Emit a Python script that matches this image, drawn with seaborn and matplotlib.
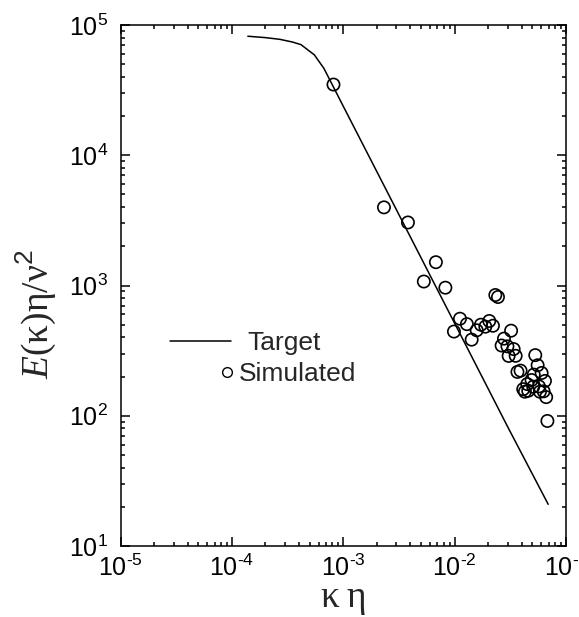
import numpy as np
import pandas as pd
import matplotlib
matplotlib.use("Agg")
import matplotlib.pyplot as plt
from matplotlib.ticker import LogLocator, FuncFormatter, NullFormatter
from matplotlib.lines import Line2D
import seaborn as sns

# Target spectrum (normalised wavenumber vs normalised energy)
target_k = [1.39e-4, 2.0e-4, 2.7e-4, 3.5e-4, 4.17e-4, 5.5e-4, 6.7e-4,
            1.0e-3, 3.0e-3, 1.0e-2, 3.0e-2, 6.92e-2]
target_E = [8.2e4, 8.0e4, 7.76e4, 7.4e4, 7.07e4, 5.9e4, 4.65e4,
            2.38e4, 3.82e3, 513, 82, 20.9]

# Simulated spectrum samples
sim_k = [8.17e-4, 2.32e-3, 3.81e-3, 6.79e-3, 5.29e-3, 8.26e-3, 0.0232, 0.0245,
         0.01117, 9.86e-3, 0.01288, 0.01422, 0.01578, 0.01722, 0.01887, 0.02047,
         0.02208, 0.03214, 0.02773, 0.02642, 0.02979, 0.03388, 0.03055, 0.03532,
         0.05297, 0.03664, 0.03908, 0.05561, 0.05129, 0.06039, 0.04909, 0.06471,
         0.04487, 0.0413, 0.04581, 0.05715, 0.06295, 0.06637, 0.06808, 0.04276,
         0.05082, 0.05834]
sim_E = [34900, 3980, 3048, 1510, 1073, 962, 845, 816,
         556, 443, 505, 384, 453, 500, 483, 534,
         491, 450, 391, 346, 341, 325, 288, 288.5,
         292, 217, 222, 244, 207, 213, 188, 185,
         175, 160, 155.6, 168, 154, 139, 91.2, 153,
         167, 153]

x_ticks = [1e-5, 1e-4, 1e-3, 1e-2, 1e-1]
y_ticks = [1e1, 1e2, 1e3, 1e4, 1e5]

sns.set_theme(style="ticks")
plt.rcParams.update({
    "font.family": ["Liberation Sans", "DejaVu Sans"],
    "mathtext.fontset": "custom",
    "mathtext.rm": "Liberation Serif",
    "mathtext.it": "Liberation Serif:italic",
    "mathtext.default": "regular",
    "axes.edgecolor": "black",
    "axes.linewidth": 1.1,
    "xtick.color": "black",
    "ytick.color": "black",
})

target = pd.DataFrame({"k": target_k, "E": target_E})
sim = pd.DataFrame({"k": sim_k, "E": sim_E})

fig = plt.figure(figsize=(5.79, 6.17), dpi=100)
ax = fig.add_axes([120.5 / 579, 1 - 546 / 617, 445.5 / 579, 521 / 617])

sns.lineplot(data=target, x="k", y="E", ax=ax, color="black", lw=1.1,
             sort=False, estimator=None)
sns.scatterplot(data=sim, x="k", y="E", ax=ax, s=78, facecolor="none",
                edgecolor="black", linewidth=1.2, zorder=3)

ax.set_xscale("log")
ax.set_yscale("log")
ax.set_xlim(x_ticks[0], x_ticks[-1])
ax.set_ylim(y_ticks[0], y_ticks[-1])


def decade_label(v, pos):
    exp = int(round(np.log10(v)))
    exp_txt = str(abs(exp)) if exp >= 0 else "\u2010" + str(abs(exp))
    return r"$\mathregular{10^{%s}}$" % exp_txt


fmt = FuncFormatter(decade_label)
for axis in (ax.xaxis, ax.yaxis):
    axis.set_minor_locator(LogLocator(base=10, subs=np.arange(2, 10), numticks=10))
    axis.set_major_formatter(fmt)
    axis.set_minor_formatter(NullFormatter())
ax.set_xticks(x_ticks)
ax.set_yticks(y_ticks)

ax.tick_params(which="both", direction="in", top=True, right=True,
               width=1.1, labelsize=18)
ax.tick_params(which="major", length=6.5)
ax.tick_params(which="minor", length=3.2)
ax.tick_params(axis="x", which="major", pad=6)
ax.tick_params(axis="y", which="major", pad=9)

ax.set_xlabel(r"$\mathrm{\kappa\;\eta}$", fontsize=27, labelpad=0)
ax.set_ylabel(r"$\mathit{E}\mathrm{(\kappa)\eta/\nu}^{2}$", fontsize=27)
ax.yaxis.set_label_coords(-0.14, 0.445)

# Legend: two unframed entries stacked in the lower-left area
leg1 = ax.legend(handles=[Line2D([], [], color="black", lw=1.1)], labels=["Target"],
                 loc="center left", bbox_to_anchor=(0.111, 0.389), frameon=False,
                 fontsize=19, handlelength=2.3, handletextpad=0.62,
                 borderaxespad=0, borderpad=0)
ax.add_artist(leg1)
ax.legend(handles=[Line2D([], [], ls="none", marker="o", ms=7, mfc="none",
                          mec="black", mew=1.0)], labels=["Simulated"],
          loc="center left", bbox_to_anchor=(0.228, 0.3296), frameon=False,
          fontsize=19, handlelength=0.4, handletextpad=0.22,
          borderaxespad=0, borderpad=0)

fig.savefig("out.png", dpi=100)
